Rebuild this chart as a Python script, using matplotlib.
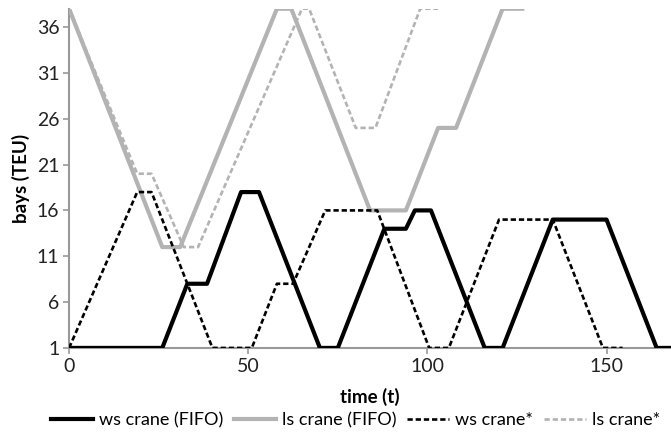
import matplotlib
matplotlib.use("Agg")
import matplotlib.pyplot as plt

plt.rcParams['font.family'] = ['Lato', 'DejaVu Sans']

ws_fifo_t = [0, 26, 33, 38.5, 48, 53, 70, 75, 88, 94, 96.5, 101, 116, 121, 135, 150, 164, 168]
ws_fifo_y = [1, 1, 8, 8, 18, 18, 1, 1, 14, 14, 16, 16, 1, 1, 15, 15, 1, 1]

ls_fifo_t = [0, 26, 31, 58, 62, 84, 94, 103, 108, 121, 126.5]
ls_fifo_y = [38, 12, 12, 38, 38, 16, 16, 25, 25, 38, 38]

ws_opt_t = [0, 19, 23, 40, 51, 58, 62.5, 71.5, 86, 100.5, 106, 120, 135, 149, 154.5]
ws_opt_y = [1, 18, 18, 1, 1, 8, 8, 16, 16, 1, 1, 15, 15, 1, 1]

ls_opt_t = [0, 19, 23, 32, 36, 65, 67, 80, 85.5, 98, 103]
ls_opt_y = [38, 20, 20, 12, 12, 38, 38, 25, 25, 38, 38]

x_ticks = [0, 50, 100, 150]
y_ticks = [1, 6, 11, 16, 21, 26, 31, 36]

grey = '#b3b3b3'
fig = plt.figure(figsize=(6.71, 4.36), dpi=100)
ax = fig.add_axes([0.103, 0.202, 0.897, 0.778])

ax.plot(ws_fifo_t, ws_fifo_y, color='black', lw=3.0, label='ws crane (FIFO)')
ax.plot(ls_fifo_t, ls_fifo_y, color=grey, lw=3.0, label='ls crane (FIFO)')
ax.plot(ws_opt_t, ws_opt_y, color='black', lw=1.9, ls=(0, (2.0, 1.1)), label='ws crane*')
ax.plot(ls_opt_t, ls_opt_y, color=grey, lw=1.9, ls=(0, (2.0, 1.1)), label='ls crane*')

ax.set_xlim(0, 168)
ax.set_ylim(1, 38)
ax.set_xticks(x_ticks)
ax.set_yticks(y_ticks)
for s in ['top', 'right']:
    ax.spines[s].set_visible(False)
for s in ['left', 'bottom']:
    ax.spines[s].set_color('#999999')
    ax.spines[s].set_linewidth(1.5)
    ax.spines[s].set_zorder(0)
ax.tick_params(axis='both', colors='#999999', labelcolor='#222222', labelsize=14, length=4, width=1.2)
ax.tick_params(axis='y', pad=3)
ax.set_xlabel('time (t)', fontsize=13.5, fontweight='bold', labelpad=9)
ax.set_ylabel('bays (TEU)', fontsize=13.5, fontweight='bold', labelpad=5)

leg = fig.legend(loc='center', bbox_to_anchor=(0.53, 0.036), ncol=4, frameon=False,
                 fontsize=13, handlelength=2.3, columnspacing=0.6, handletextpad=0.35,
                 borderaxespad=0, borderpad=0)
fig.savefig('out.png', dpi=100)
